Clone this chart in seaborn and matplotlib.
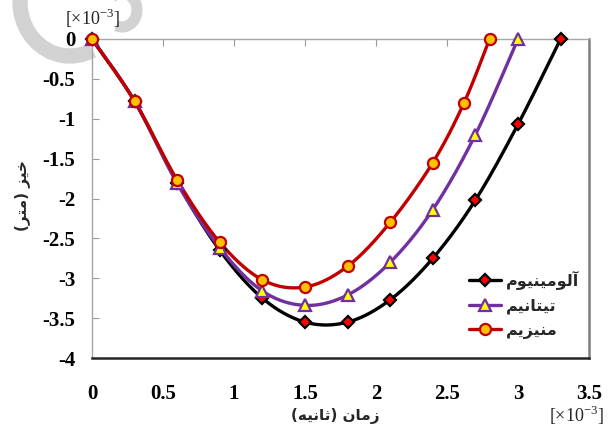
import numpy as np
import pandas as pd
import matplotlib
matplotlib.use("Agg")
import matplotlib.pyplot as plt
import seaborn as sns
from matplotlib.lines import Line2D
from matplotlib.patches import Arc

# Deflection (x10^-3 m) against time (x10^-3 s) for three materials
time_al = [0, 0.3, 0.6, 0.9, 1.2, 1.5, 1.8, 2.1, 2.4, 2.7, 3.0, 3.3]
defl_al = [0, -0.78, -1.80, -2.65, -3.25, -3.55, -3.55, -3.27, -2.75, -2.02, -1.07, 0]

time_ti = [0, 0.3, 0.6, 0.9, 1.2, 1.5, 1.8, 2.1, 2.4, 2.7, 3.0]
defl_ti = [0, -0.78, -1.81, -2.62, -3.16, -3.34, -3.21, -2.80, -2.14, -1.20, 0]

time_mg = [0, 0.3, 0.6, 0.9, 1.2, 1.5, 1.8, 2.1, 2.4, 2.62, 2.8]
defl_mg = [0, -0.78, -1.77, -2.55, -3.02, -3.11, -2.85, -2.30, -1.55, -0.80, 0]

series_names = ["آلومینیوم", "تیتانیم", "منیزیم"]
x_label = "زمان (ثانیه)"
y_label = "خیز (متر)"
scale_label = "[×10$^{\\mathregular{-3}}$]"
x_ticks = [0, 0.5, 1, 1.5, 2, 2.5, 3, 3.5]
y_ticks = [0, -0.5, -1, -1.5, -2, -2.5, -3, -3.5, -4]

# contextual letter forms: isolated, final, initial, medial
FORMS = {
    "ا": ("\uFE8D", "\uFE8E", None, None),
    "آ": ("\uFE81", "\uFE82", None, None),
    "ت": ("\uFE95", "\uFE96", "\uFE97", "\uFE98"),
    "ث": ("\uFE99", "\uFE9A", "\uFE9B", "\uFE9C"),
    "خ": ("\uFEA5", "\uFEA6", "\uFEA7", "\uFEA8"),
    "ر": ("\uFEAD", "\uFEAE", None, None),
    "ز": ("\uFEAF", "\uFEB0", None, None),
    "ل": ("\uFEDD", "\uFEDE", "\uFEDF", "\uFEE0"),
    "م": ("\uFEE1", "\uFEE2", "\uFEE3", "\uFEE4"),
    "ن": ("\uFEE5", "\uFEE6", "\uFEE7", "\uFEE8"),
    "ه": ("\uFEE9", "\uFEEA", "\uFEEB", "\uFEEC"),
    "و": ("\uFEED", "\uFEEE", None, None),
    "ی": ("\uFBFC", "\uFBFD", "\uFEF3", "\uFEF4"),
}


def shape(text):
    """Join Persian letters and lay them out right-to-left for display."""
    out = []
    for i, ch in enumerate(text):
        f = FORMS.get(ch)
        if f is None:
            out.append(ch)
            continue
        prev = text[i - 1] if i > 0 else ""
        nxt = text[i + 1] if i + 1 < len(text) else ""
        jp = prev in FORMS and FORMS[prev][2] is not None
        jn = f[2] is not None and nxt in FORMS
        if jp and jn:
            out.append(f[3])
        elif jp:
            out.append(f[1])
        elif jn:
            out.append(f[2])
        else:
            out.append(f[0])
    mirror = {"(": ")", ")": "("}
    return "".join(mirror.get(c, c) for c in reversed(out))


def smooth(xs, ys, n=40):
    """Smoothed polyline through the points (cubic Bezier, 1/6 tension)."""
    p = np.column_stack([xs, ys]).astype(float)
    segs = []
    for i in range(len(p) - 1):
        p0 = p[i - 1] if i > 0 else p[i]
        p1, p2 = p[i], p[i + 1]
        p3 = p[i + 2] if i + 2 < len(p) else p[i + 1]
        c1 = p1 + (p2 - p0) / 6
        c2 = p2 - (p3 - p1) / 6
        t = np.linspace(0, 1, n)[:, None]
        seg = (1 - t) ** 3 * p1 + 3 * (1 - t) ** 2 * t * c1 + 3 * (1 - t) * t ** 2 * c2 + t ** 3 * p2
        segs.append(seg if i == 0 else seg[1:])
    s = np.vstack(segs)
    return s[:, 0], s[:, 1]


sns.set_theme(style="white")
plt.rcParams["font.family"] = ["Liberation Serif", "DejaVu Sans"]
plt.rcParams["mathtext.fontset"] = "custom"
plt.rcParams["mathtext.rm"] = "Liberation Serif"

fig = plt.figure(figsize=(6.12, 4.25), dpi=100)

# faint logo strokes in the upper-left corner (inch coordinates)
H = 4.25
fig.patches.append(Arc((0.70, H - 0.02), 1.00, 1.08, theta1=150, theta2=295,
                       transform=fig.dpi_scale_trans, lw=11, color="#d2d2d2", zorder=-10))
fig.patches.append(Arc((1.22, H - 0.10), 0.30, 0.34, theta1=-110, theta2=130,
                       transform=fig.dpi_scale_trans, lw=8, color="#d2d2d2", zorder=-10))

ax = fig.add_axes([92 / 612, 1 - 358 / 425, (589 - 92) / 612, (358 - 39) / 425])
ax.patch.set_alpha(0)

styles = [
    dict(line="#000000", face="#FF0000", edge="#000000", marker="D", ms=6.6),
    dict(line="#7030A0", face="#FFFF00", edge="#7030A0", marker="^", ms=8.5),
    dict(line="#C00000", face="#FFC000", edge="#C00000", marker="o", ms=8.0),
]
series = [(time_al, defl_al), (time_ti, defl_ti), (time_mg, defl_mg)]

handles = []
for (xs, ys), st, name in zip(series, styles, series_names):
    sx, sy = smooth(xs, ys)
    sns.lineplot(x=sx, y=sy, sort=False, estimator=None, color=st["line"], lw=2.4, ax=ax)
    ax.plot(xs, ys, ls="none", marker=st["marker"], ms=st["ms"], mfc=st["face"],
            mec=st["edge"], mew=1.6, zorder=5, clip_on=False)
    handles.append(Line2D([], [], color=st["line"], lw=2.4, marker=st["marker"], ms=st["ms"],
                          mfc=st["face"], mec=st["edge"], mew=1.6))

ax.set_xlim(0, 3.5)
ax.set_ylim(-4, 0)
ax.set_xticks(x_ticks)
ax.set_xticklabels([f"{v:g}" for v in x_ticks])
ax.set_yticks(y_ticks)
ax.set_yticklabels([f"{v:g}" for v in y_ticks])
ax.tick_params(axis="x", top=True, bottom=False, labeltop=False, labelbottom=True,
               direction="in", length=5, width=0.8, color="#999999", pad=19,
               labelsize=15, labelcolor="black")
ax.tick_params(axis="y", left=True, direction="in", length=5, width=0.8,
               color="#999999", pad=12, labelsize=15, labelcolor="black")
for lab in ax.get_xticklabels() + ax.get_yticklabels():
    lab.set_fontweight("bold")
ax.set_xlabel("")
ax.set_ylabel("")
ax.grid(False)

for side in ("left", "top"):
    ax.spines[side].set_color("#a6a6a6")
    ax.spines[side].set_linewidth(1.0)
ax.spines["right"].set_color("#7f7f7f")
ax.spines["right"].set_linewidth(1.8)
ax.spines["bottom"].set_color("#262626")
ax.spines["bottom"].set_linewidth(1.8)

leg = fig.legend(handles, [shape(n) for n in series_names], loc="center left",
                 bbox_to_anchor=(461 / 612, 1 - 305 / 425), frameon=False,
                 handlelength=2.0, handletextpad=0.3, labelspacing=0.55, borderpad=0,
                 prop=dict(family=["DejaVu Sans"], weight="bold", size=11.5))

fig.text(22 / 612, 1 - 196 / 425, shape(y_label), rotation=90, ha="center", va="center",
         family=["DejaVu Sans"], weight="bold", fontsize=11)
fig.text(335 / 612, 1 - 416 / 425, shape(x_label), ha="center", va="center",
         family=["DejaVu Sans"], weight="bold", fontsize=11)
fig.text(92 / 612, 1 - 18 / 425, scale_label, ha="center", va="center", fontsize=13)
fig.text(576 / 612, 1 - 415 / 425, scale_label, ha="center", va="center", fontsize=13)

fig.savefig("out.png", dpi=100, facecolor="white")
